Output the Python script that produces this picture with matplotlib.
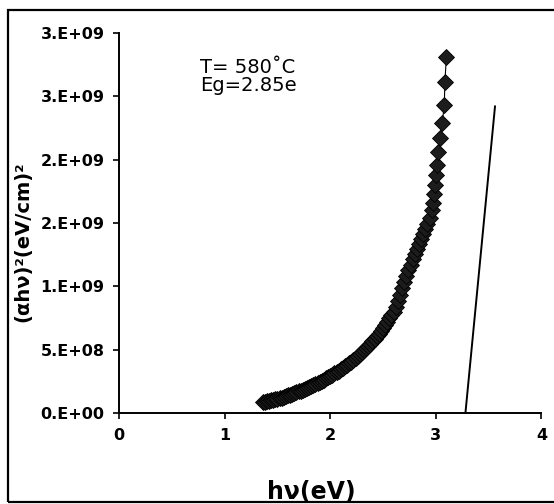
import matplotlib as mpl
mpl.use('Agg')
import matplotlib.pyplot as plt
from matplotlib.patches import Rectangle

# photon energy (eV) and (alpha h nu)^2 in units of 1e9
hv = [1.36, 1.38, 1.40, 1.42, 1.44, 1.46, 1.48, 1.50, 1.52, 1.54,
      1.56, 1.58, 1.60, 1.62, 1.64, 1.66, 1.68, 1.70, 1.72, 1.74,
      1.76, 1.78, 1.80, 1.82, 1.84, 1.86, 1.88, 1.90, 1.92, 1.94,
      1.96, 1.98, 2.00, 2.02, 2.04, 2.06, 2.08, 2.10, 2.12, 2.14,
      2.16, 2.18, 2.20, 2.22, 2.24, 2.26, 2.28, 2.30, 2.32, 2.34,
      2.36, 2.38, 2.40, 2.42, 2.44, 2.46, 2.48, 2.50, 2.52, 2.54,
      2.56, 2.58, 2.60, 2.62, 2.64, 2.66, 2.68, 2.70, 2.72, 2.74,
      2.76, 2.78, 2.80, 2.82, 2.84, 2.86, 2.88, 2.90, 2.92, 2.94,
      2.96, 2.97, 2.98, 2.99, 3.00, 3.01, 3.02, 3.04, 3.06, 3.08,
      3.085, 3.10]
ahv2 = [0.086, 0.089, 0.092, 0.095, 0.099, 0.103, 0.107, 0.111, 0.116, 0.121,
        0.127, 0.133, 0.139, 0.145, 0.151, 0.157, 0.163, 0.170, 0.176, 0.183,
        0.190, 0.197, 0.204, 0.212, 0.220, 0.228, 0.237, 0.246, 0.255, 0.264,
        0.273, 0.282, 0.292, 0.302, 0.312, 0.322, 0.333, 0.344, 0.355, 0.367,
        0.379, 0.392, 0.405, 0.419, 0.433, 0.448, 0.463, 0.479, 0.495, 0.512,
        0.529, 0.547, 0.566, 0.585, 0.605, 0.626, 0.648, 0.671, 0.695, 0.720,
        0.746, 0.773, 0.801, 0.840, 0.885, 0.935, 0.985, 1.035, 1.080, 1.125,
        1.170, 1.215, 1.255, 1.295, 1.335, 1.375, 1.415, 1.455, 1.495, 1.540,
        1.600, 1.660, 1.730, 1.800, 1.880, 1.960, 2.060, 2.170, 2.290, 2.430,
        2.610, 2.810]

# linear fit line
fit_x = [3.28, 3.56]
fit_y = [0.0, 2.42]

yticks = [0, 0.5, 1.0, 1.5, 2.0, 2.5, 3.0]
ytick_labels = ['0.E+00', '5.E+08', '1.E+09', '2.E+09', '2.E+09', '3.E+09', '3.E+09']
xticks = [0, 1, 2, 3, 4]

fig = plt.figure(figsize=(5.54, 5.04), dpi=100)
ax = fig.add_axes([0.2148, 0.1806, 0.7626, 0.754])

ax.plot(hv, ahv2, color='black', lw=0.8, marker='D', ms=8.5,
        markerfacecolor='#1c1c1c', markeredgecolor='black', markeredgewidth=0.6)
ax.plot(fit_x, fit_y, color='black', lw=1.4)

ax.set_xlim(0, 4)
ax.set_ylim(0, 3.0)
ax.set_xticks(xticks)
ax.set_yticks(yticks)
ax.set_yticklabels(ytick_labels)
for s in ['top', 'right']:
    ax.spines[s].set_visible(False)
for s in ['left', 'bottom']:
    ax.spines[s].set_linewidth(1.4)
ax.tick_params(direction='out', length=4.5, width=1.2, labelsize=11.5)
ax.tick_params(axis='x', pad=6)
ax.tick_params(axis='y', pad=6)
for lab in ax.get_xticklabels() + ax.get_yticklabels():
    lab.set_fontweight('bold')

ax.text(0.77, 2.68, 'T= 580˚C', fontsize=14, va='baseline')
ax.text(0.77, 2.54, 'Eg=2.85e', fontsize=14, va='baseline')

fig.text(0.562, 0.0, 'hν(eV)', fontsize=17, fontweight='bold', ha='center', va='bottom')
fig.text(0.042, 0.52, '(αhν)²(eV/cm)²', fontsize=14, fontweight='bold', rotation=90,
         ha='center', va='center')

fig.patches.append(Rectangle((0.0144, 0.004), 1.2, 0.976, transform=fig.transFigure,
                             fill=False, edgecolor='black', lw=1.6))

fig.savefig('out.png', dpi=100)
